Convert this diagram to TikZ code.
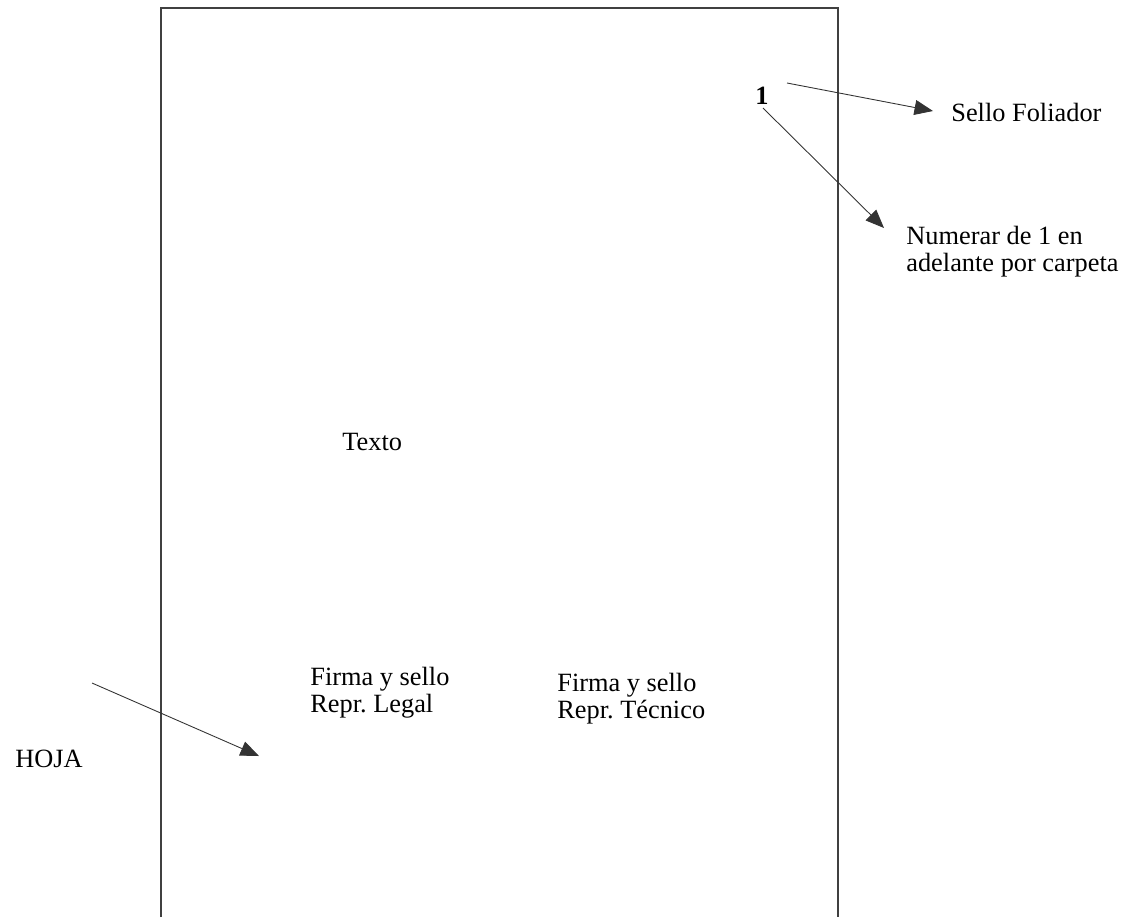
\documentclass[tikz,border=0pt]{standalone}
\usepackage{fontspec}
\setmainfont{Liberation Serif}
\usetikzlibrary{positioning,arrows.meta}
\frenchspacing

\begin{document}
\begin{tikzpicture}[
    x=0.02cm, y=-0.02cm,
    sheet/.style={draw=black!75, line width=0.7pt},
    txt/.style={anchor=north west, inner sep=0pt, font=\fontsize{15}{15}\selectfont, align=left},
    pointer/.style={-{Triangle[length=0.37cm, width=0.3cm]}, black!80, line width=0.5pt}
]
\useasboundingbox (0,0) rectangle (1138,917);

% sheet (open at the bottom)
\draw[sheet] (161,917) -- (161,8) -- (838,8) -- (838,917);

% texts
\node[txt, font=\fontsize{15}{15}\selectfont\bfseries] (one) at (755,87) {1};
\node[txt] (sello) at (951,103) {Sello Foliador};
\node[txt] (numerar) at (906,226) {Numerar de 1 en\\adelante por carpeta};
\node[txt] (texto) at (342,433) {Texto};
\node[txt] (legal) at (310,667) {Firma y sello\\Repr. Legal};
\node[txt] (tecnico) at (557,673) {Firma y sello\\Repr. Técnico};
\node[txt] (hoja) at (15,750) {HOJA};

% arrow ends
\coordinate (selloTail) at (787,83);
\coordinate (selloTip) at (933,111);
\coordinate (oneTail) at (763,108);
\coordinate (numTip) at (884,228);
\coordinate (hojaTail) at (92,683);
\coordinate (hojaTip) at (259,756);

% arrows
\draw[pointer] (selloTail) -- (selloTip);
\draw[pointer] (oneTail) -- (numTip);
\draw[pointer] (hojaTail) -- (hojaTip);

\end{tikzpicture}
\end{document}
